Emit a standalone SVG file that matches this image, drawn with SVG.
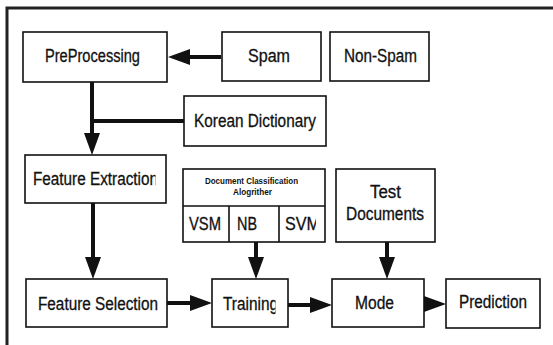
<svg xmlns="http://www.w3.org/2000/svg" width="553" height="345" viewBox="0 0 553 345">
<style>
.box{fill:#fff;stroke:#111;stroke-width:1.6}
.t{font-family:"Liberation Sans",Arial,sans-serif;font-size:17.5px;fill:#111;stroke:#111;stroke-width:0.3}
.s{font-family:"Liberation Sans",Arial,sans-serif;font-size:8.5px;font-weight:bold;fill:#111}
.c{fill:none;stroke:#111;stroke-width:4}
</style>
<defs>
<marker id="ah" viewBox="0 0 22 16" markerWidth="22" markerHeight="16" refX="10" refY="8" orient="auto" markerUnits="userSpaceOnUse">
<path d="M0,0 L22,8 L0,16 Z" fill="#111"/>
</marker>
<clipPath id="clipFE"><rect x="20" y="150" width="135.5" height="60"/></clipPath>
<clipPath id="clipTR"><rect x="210" y="275" width="65.5" height="55"/></clipPath>
<clipPath id="clipSVM"><rect x="280" y="205" width="36" height="38"/></clipPath>
</defs>
<rect width="553" height="345" fill="#fff"/>
<path d="M7,345 V8 H553" fill="none" stroke="#222" stroke-width="3"/>

<g id="connectors">
<path class="c" d="M221,57 H180" marker-end="url(#ah)"/>
<path class="c" d="M92,82 V143" marker-end="url(#ah)"/>
<path class="c" d="M184,121 H92"/>
<path class="c" d="M93,203 V267" marker-end="url(#ah)"/>
<path class="c" d="M256,242 V267" marker-end="url(#ah)"/>
<path class="c" d="M387,242 V267" marker-end="url(#ah)"/>
<path class="c" d="M167,303 H200" marker-end="url(#ah)"/>
<path class="c" d="M288,305 H320" marker-end="url(#ah)"/>
<path class="c" d="M424,304 H434" marker-end="url(#ah)"/>
</g>

<g id="preprocessing">
<rect class="box" x="23" y="32" width="144" height="50"/>
<text class="t" x="45" y="62" textLength="95" lengthAdjust="spacingAndGlyphs">PreProcessing</text>
</g>
<g id="spam">
<rect class="box" x="222" y="32" width="99" height="49"/>
<text class="t" x="248" y="62" textLength="42" lengthAdjust="spacingAndGlyphs">Spam</text>
</g>
<g id="nonspam">
<rect class="box" x="330" y="32" width="99" height="49"/>
<text class="t" x="344" y="62" textLength="73" lengthAdjust="spacingAndGlyphs">Non-Spam</text>
</g>
<g id="korean-dictionary">
<rect class="box" x="184" y="96" width="142" height="50"/>
<text class="t" x="194" y="127" textLength="122" lengthAdjust="spacingAndGlyphs">Korean Dictionary</text>
</g>
<g id="feature-extraction">
<rect class="box" x="25" y="155" width="141" height="48"/>
<text class="t" x="33" y="185" textLength="125" lengthAdjust="spacingAndGlyphs" clip-path="url(#clipFE)">Feature Extraction</text>
</g>
<g id="doc-classification">
<rect class="box" x="183" y="169" width="142" height="73"/>
<path d="M183,206 H325 M229,206 V242 M279,206 V242" fill="none" stroke="#111" stroke-width="1.6"/>
<text class="s" x="205" y="184" textLength="93" lengthAdjust="spacingAndGlyphs">Document Classification</text>
<text class="s" x="233" y="195" textLength="39" lengthAdjust="spacingAndGlyphs">Alogrither</text>
<text class="t" x="189" y="230" textLength="32" lengthAdjust="spacingAndGlyphs">VSM</text>
<text class="t" x="237" y="230" textLength="20" lengthAdjust="spacingAndGlyphs">NB</text>
<text class="t" x="285" y="230" textLength="35" lengthAdjust="spacingAndGlyphs" clip-path="url(#clipSVM)">SVM</text>
</g>
<g id="test-documents">
<rect class="box" x="336" y="169" width="99" height="73"/>
<text class="t" x="370" y="198" textLength="31" lengthAdjust="spacingAndGlyphs">Test</text>
<text class="t" x="346" y="220" textLength="78" lengthAdjust="spacingAndGlyphs">Documents</text>
</g>
<g id="feature-selection">
<rect class="box" x="26" y="279" width="141" height="48"/>
<text class="t" x="38" y="310" textLength="120" lengthAdjust="spacingAndGlyphs">Feature Selection</text>
</g>
<g id="training">
<rect class="box" x="212" y="279" width="76" height="48"/>
<text class="t" x="223" y="310" textLength="55" lengthAdjust="spacingAndGlyphs" clip-path="url(#clipTR)">Training</text>
</g>
<g id="mode">
<rect class="box" x="332" y="279" width="92" height="48"/>
<text class="t" x="355" y="309" textLength="39" lengthAdjust="spacingAndGlyphs">Mode</text>
</g>
<g id="prediction">
<rect class="box" x="446" y="279" width="94" height="49"/>
<text class="t" x="459" y="308" textLength="68" lengthAdjust="spacingAndGlyphs">Prediction</text>
</g>
</svg>
